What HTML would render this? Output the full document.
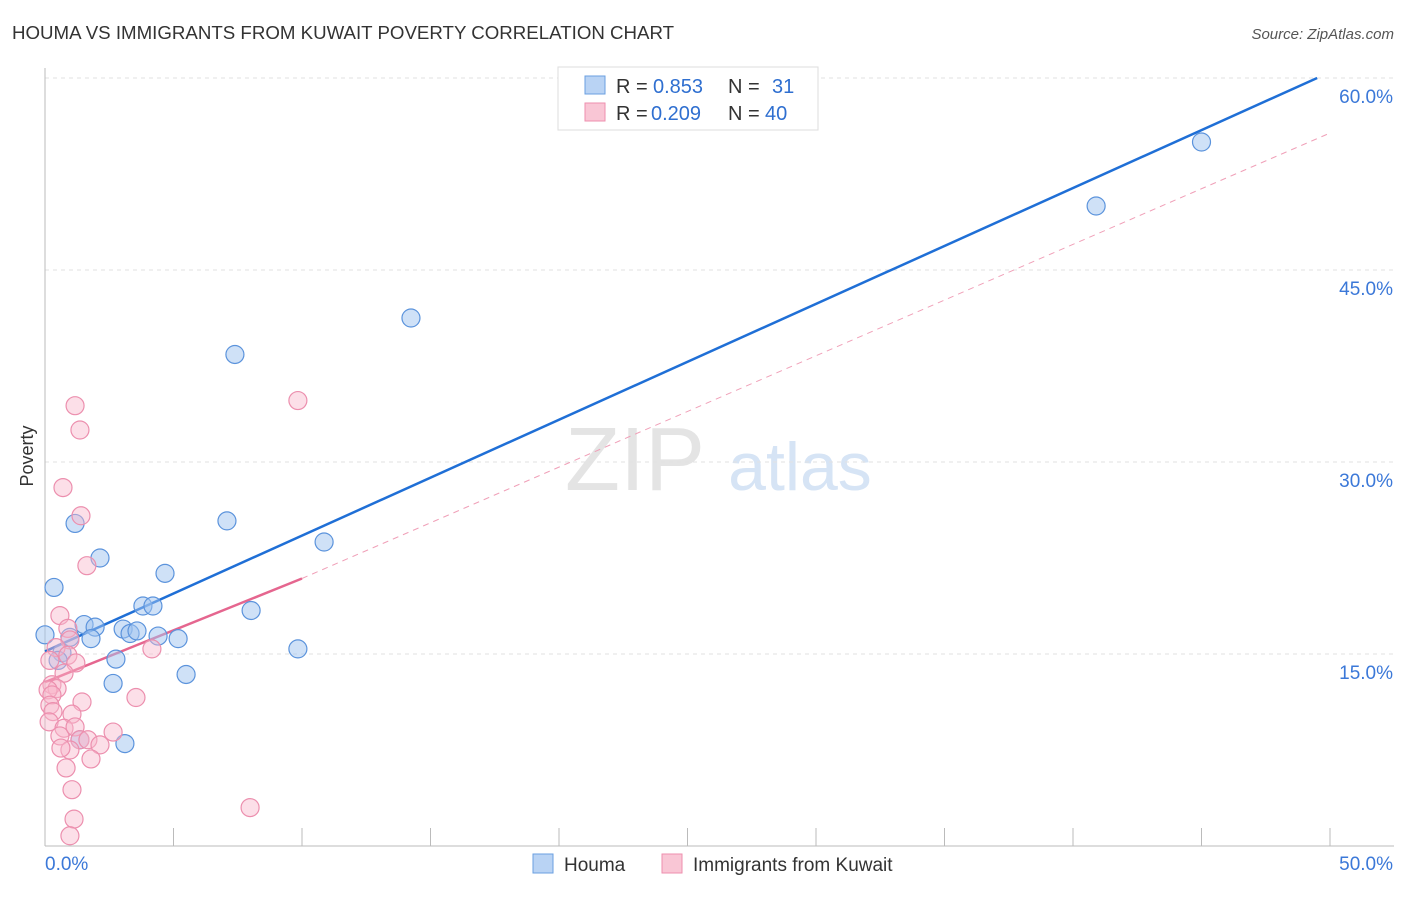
<!DOCTYPE html>
<html><head><meta charset="utf-8"><style>
body{margin:0;background:#fff;font-family:"Liberation Sans",sans-serif}
svg text{font-family:"Liberation Sans",sans-serif}
</style></head><body>
<svg id="chart" width="1406" height="892" viewBox="0 0 1406 892">
<text x="12" y="39" font-size="18.7" fill="#333">HOUMA VS IMMIGRANTS FROM KUWAIT POVERTY CORRELATION CHART</text>
<text x="1394" y="39" font-size="15" fill="#555" text-anchor="end" font-style="italic">Source: ZipAtlas.com</text>
<text x="33" y="456" font-size="18" fill="#333" text-anchor="middle" transform="rotate(-90 33 456)">Poverty</text>
<g>
<text x="635" y="490" font-size="90" fill="#e4e4e4" text-anchor="middle" font-family="Liberation Serif">ZIP</text>
<text x="800" y="490" font-size="68" fill="#d6e4f5" text-anchor="middle">atlas</text>
</g>
<g id="grid"></g><g id="axes"></g><g id="lines"></g><g id="points"></g>
<g>
<rect x="558" y="67" width="260" height="63" fill="#fff" stroke="#ddd"/>
<rect x="585" y="76" width="20" height="18" fill="#b9d3f4" stroke="#6a9fe0"/>
<text x="616" y="93" font-size="20" fill="#333">R =</text>
<text x="653" y="93" font-size="20" fill="#2f6fd0">0.853</text>
<text x="728" y="93" font-size="20" fill="#333">N =</text>
<text x="772" y="93" font-size="20" fill="#2f6fd0">31</text>
<rect x="585" y="103" width="20" height="18" fill="#f9c6d5" stroke="#ee8fae"/>
<text x="616" y="120" font-size="20" fill="#333">R =</text>
<text x="651" y="120" font-size="20" fill="#2f6fd0">0.209</text>
<text x="728" y="120" font-size="20" fill="#333">N =</text>
<text x="765" y="120" font-size="20" fill="#2f6fd0">40</text>
</g>
<g>
<rect x="533" y="854" width="20" height="19" fill="#b9d3f4" stroke="#6a9fe0"/>
<text x="564" y="871" font-size="19" fill="#333">Houma</text>
<rect x="662" y="854" width="20" height="19" fill="#f9c6d5" stroke="#ee8fae"/>
<text x="693" y="871" font-size="19" fill="#333">Immigrants from Kuwait</text>
</g>
</svg>
<script>
const yTicks=[15,30,45,60];
const yTickLabels=["15.0%","30.0%","45.0%","60.0%"];
const xTicks=[0,5,10,15,20,25,30,35,40,45,50];
const houmaX=[0,0.35,1.17,2.14,1.52,1.95,1.79,0.97,0.66,0.51,3.81,4.2,4.67,3.04,3.31,3.58,4.4,5.18,2.76,2.65,5.49,3.11,1.36,7.39,7.08,8.02,9.84,10.86,14.24,40.9,45.0];
const houmaY=[16.5,20.2,25.2,22.5,17.3,17.1,16.2,16.3,15.1,14.5,18.75,18.75,21.3,16.95,16.6,16.8,16.4,16.2,14.6,12.7,13.4,8.0,8.3,38.4,25.4,18.4,15.4,23.75,41.25,50.0,55.0];
const kuwaitX=[1.17,1.36,9.84,0.7,1.4,1.63,0.58,0.89,0.97,0.43,0.89,1.2,0.19,0.74,0.27,0.47,0.12,0.27,0.19,0.31,0.16,1.44,1.05,4.16,3.54,0.74,0.58,1.17,1.36,1.67,2.14,0.97,0.62,1.79,0.82,1.05,1.13,0.97,7.98,2.65];
const kuwaitY=[34.4,32.5,34.8,28.0,25.8,21.9,18.0,17.0,16.1,15.5,14.9,14.3,14.5,13.5,12.6,12.3,12.2,11.8,11.0,10.5,9.7,11.25,10.3,15.4,11.6,9.2,8.6,9.3,8.3,8.3,7.9,7.5,7.65,6.8,6.1,4.4,2.1,0.8,3.0,8.9];
const houmaTrend=[[0,15.2],[49.5,60]];
const kuwaitTrend=[[0,12.8],[10,20.9]];
const kuwaitDash=[[10,20.9],[50,55.7]];
const NS="http://www.w3.org/2000/svg";
const sx=v=>45+v*25.7, sy=v=>846-v*12.8;
function mk(tag,attrs,parent){const e=document.createElementNS(NS,tag);for(const k in attrs)e.setAttribute(k,attrs[k]);document.getElementById(parent).appendChild(e);return e;}
yTicks.forEach((t,i)=>{
 const g=mk('line',{x1:45,x2:1394,y1:sy(t),y2:sy(t),stroke:'#e2e2e2','stroke-dasharray':'4,4'},'grid');
 
 
 const l=mk('text',{x:1393,y:sy(t)+25,'font-size':19,fill:'#3b78d8','text-anchor':'end'},'grid');
 l.textContent=yTickLabels[i];
 
 
});
const ax=mk('line',{x1:45,x2:45,y1:68,y2:846,stroke:'#bbb'},'axes');


const bx=mk('line',{x1:45,x2:1394,y1:846,y2:846,stroke:'#bbb'},'axes');


xTicks.forEach(t=>{
 const tk=mk('line',{x1:sx(t),x2:sx(t),y1:828,y2:846,stroke:'#bbb'},'axes');
 
 
});
[[0,"0.0%","start"],[50,"50.0%","end"]].forEach(([v,s,a])=>{
 const t=mk('text',{x:v===0?sx(v):1393,y:870,'font-size':19,fill:'#3b78d8','text-anchor':a},'axes');
 t.textContent=s;
 
 
});
const l1=mk('line',{x1:sx(houmaTrend[0][0]),y1:sy(houmaTrend[0][1]),x2:sx(houmaTrend[1][0]),y2:sy(houmaTrend[1][1]),stroke:'#1f6fd6','stroke-width':2.5},'lines');


const l3=mk('line',{x1:sx(kuwaitDash[0][0]),y1:sy(kuwaitDash[0][1]),x2:sx(kuwaitDash[1][0]),y2:sy(kuwaitDash[1][1]),stroke:'#f0a0b8','stroke-width':1,'stroke-dasharray':'6,5'},'lines');


const l2=mk('line',{x1:sx(kuwaitTrend[0][0]),y1:sy(kuwaitTrend[0][1]),x2:sx(kuwaitTrend[1][0]),y2:sy(kuwaitTrend[1][1]),stroke:'#e5668f','stroke-width':2.5},'lines');


houmaX.forEach((x,i)=>{
 const c=mk('circle',{cx:sx(x),cy:sy(houmaY[i]),r:9,fill:'rgba(160,195,240,0.5)',stroke:'#5b93dc','stroke-width':1.2},'points');
 
 
});
kuwaitX.forEach((x,i)=>{
 const c=mk('circle',{cx:sx(x),cy:sy(kuwaitY[i]),r:9,fill:'rgba(248,185,205,0.45)',stroke:'#ec8fae','stroke-width':1.2},'points');
 
 
});
</script>
</body></html>
